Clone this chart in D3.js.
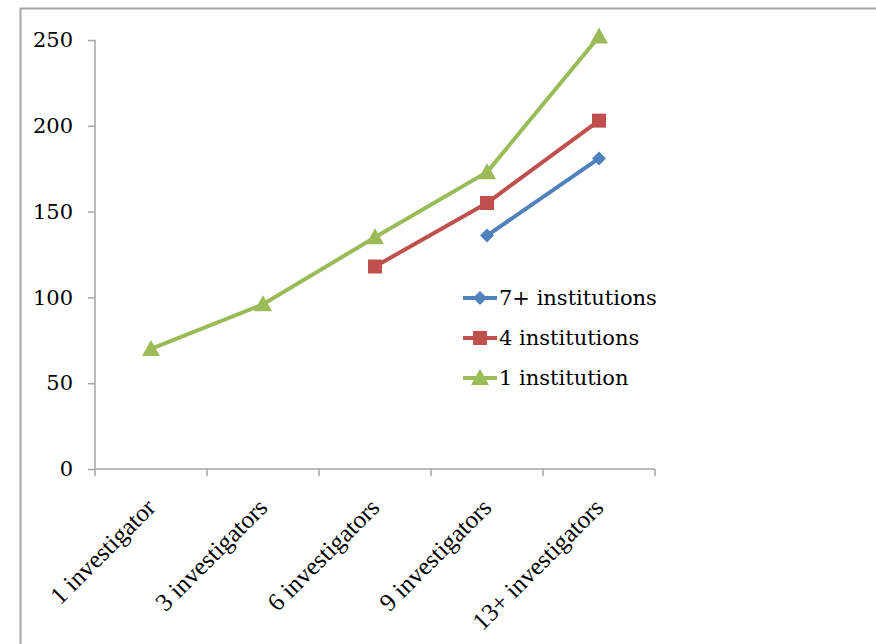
<!DOCTYPE html>
<html><head><meta charset="utf-8">
<script src="https://cdn.jsdelivr.net/npm/d3@7"></script>
<style>body{margin:0;background:#fff}svg{display:block}</style>
</head><body>
<svg id="c" width="876" height="644"></svg>
<script>
const categories = ["1 investigator","3 investigators","6 investigators","9 investigators","13+ investigators"];
const seriesNames = ["7+ institutions","4 institutions","1 institution"];
const seven = [null, null, null, 136, 181];
const four = [null, null, 118, 155, 203];
const one = [70, 96, 135, 173, 252];
const yTicks = [0, 50, 100, 150, 200, 250];
const colors = ["#4F81BD","#C0504D","#9BBB59"];
const markers = ["diamond","square","triangle"];

const svg = d3.select("#c");
svg.append("rect").attr("x",20.5).attr("y",8.5).attr("width",900).attr("height",700)
  .attr("fill","none").attr("stroke","#a6a6a6").attr("stroke-width",2);

const x = d3.scaleBand().domain(categories).range([95,655]);
const y = d3.scaleLinear().domain([0,250]).range([469,40]);

const yAx = svg.append("g").attr("transform","translate(95,0)")
  .call(d3.axisLeft(y).tickValues(yTicks).tickSize(7).tickPadding(15).tickFormat(d3.format("d")));
yAx.select(".domain").attr("stroke","#a6a6a6").attr("stroke-width",1.5).attr("d","M0,40V469");
yAx.selectAll(".tick line").attr("stroke","#a6a6a6").attr("stroke-width",1.5);
yAx.selectAll("text").attr("font-family","DejaVu Serif").attr("font-size",21).attr("fill","#000");

const xAx = svg.append("g").attr("transform","translate(0,469)")
  .call(d3.axisBottom(x).tickSize(0).tickFormat(""));
xAx.select(".domain").attr("stroke","#a6a6a6").attr("stroke-width",1.5).attr("d","M95,0H655");
const edges = categories.map(c=>x(c)).concat([655]);
xAx.selectAll(".edge").data(edges).enter().append("line").attr("class","edge")
  .attr("x1",d=>d).attr("x2",d=>d).attr("y1",0).attr("y2",7)
  .attr("stroke","#a6a6a6").attr("stroke-width",1.5);
xAx.selectAll(".lbl").data(categories).enter().append("text").attr("class","lbl")
  .attr("transform",d=>`translate(${x(d)+x.bandwidth()/2+6},${40}) rotate(-45)`)
  .attr("text-anchor","end").attr("font-family","Liberation Serif").attr("font-size",25)
  .attr("fill","#000").text(d=>d);

function sym(type){
  if(type==="diamond") return "M0,-7L7,0L0,7L-7,0Z";
  if(type==="square") return "M-7,-7H7V7H-7Z";
  return "M0,-9L9,7H-9Z";
}
const data = [seven, four, one];
const cx = d => x(d)+x.bandwidth()/2;
[2,1,0].forEach(i=>{
  const vals = data[i];
  const pts = categories.map((c,j)=>({c, v: vals[j]}));
  const line = d3.line().defined(d=>d.v!=null).x(d=>cx(d.c)).y(d=>y(d.v));
  svg.append("path").datum(pts).attr("d",line).attr("fill","none")
    .attr("stroke",colors[i]).attr("stroke-width",4).attr("stroke-linejoin","round");
  svg.selectAll(".m"+i).data(pts.filter(d=>d.v!=null)).enter().append("path")
    .attr("d",sym(markers[i])).attr("fill",colors[i])
    .attr("transform",d=>`translate(${cx(d.c)},${y(d.v)})`);
});

const leg = svg.append("g");
seriesNames.forEach((n,i)=>{
  const ly = 298 + i*40;
  leg.append("line").attr("x1",463).attr("x2",497).attr("y1",ly).attr("y2",ly)
    .attr("stroke",colors[i]).attr("stroke-width",4);
  leg.append("path").attr("d",sym(markers[i])).attr("fill",colors[i])
    .attr("transform",`translate(480,${ly})`);
  leg.append("text").attr("x",499).attr("y",ly+7).attr("font-family","DejaVu Serif")
    .attr("font-size",21).attr("fill","#000").text(n);
});
</script>
</body></html>
